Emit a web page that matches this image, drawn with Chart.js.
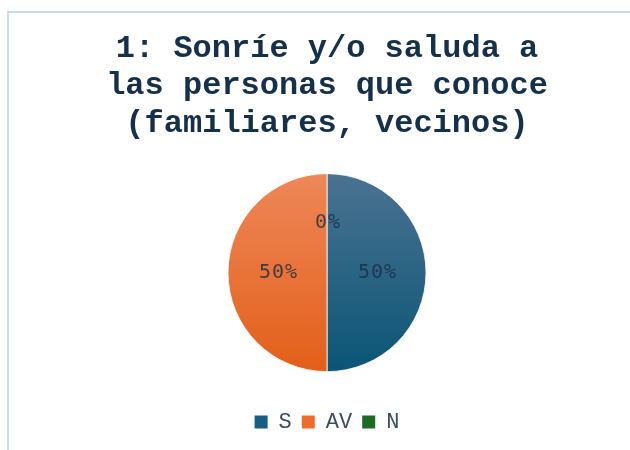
<!DOCTYPE html>
<html>
<head>
<meta charset="utf-8">
<style>
  body { margin: 0; background: #fff; }
  #wrap { position: relative; width: 630px; height: 450px; overflow: hidden; }
  #frame { position: absolute; left: 7px; top: 11px; width: 700px; height: 500px;
           border-left: 2px solid #c8ddf1; border-top: 2px solid #c8ddf1; }
  #box { position: absolute; left: 0; top: 0; width: 630px; height: 450px; }
</style>
</head>
<body>
<div id="wrap">
  <div id="frame"></div>
  <div id="box"><canvas id="myChart"></canvas></div>
</div>

<script src="https://cdn.jsdelivr.net/npm/chart.js@4.4.1/dist/chart.umd.min.js"></script>

<script>
    // data
    var titleLines = ['1: Sonríe y/o saluda a', 'las personas que conoce', '(familiares, vecinos)'];
    var categories = ['S', 'AV', 'N'];
    var values = [50, 50, 0];

    // top / bottom colours of each slice (gradient)
    var topColors = ['#4b7291', '#ee8759', '#2a7a33'];
    var bottomColors = ['#0a5576', '#e35f19', '#15621f'];
    var legendColors = ['#165f82', '#ee6d2c', '#1e6b26'];

    function sliceFill(context) {
        var chart = context.chart;
        var area = chart.chartArea;
        var i = context.dataIndex;
        if (context.type !== 'data' || !area) return legendColors[i];
        var cy = (area.top + area.bottom) / 2;
        var g = chart.ctx.createLinearGradient(0, cy - 99, 0, cy + 99);
        g.addColorStop(0, topColors[i]);
        g.addColorStop(1, bottomColors[i]);
        return g;
    }

    // percent labels inside the slices
    var pctLabels = {
        id: 'pctLabels',
        afterDatasetsDraw: function (chart) {
            var ctx = chart.ctx;
            var meta = chart.getDatasetMeta(0);
            var data = chart.data.datasets[0].data;
            var total = data.reduce(function (a, b) { return a + b; }, 0);
            ctx.save();
            ctx.font = '20px "DejaVu Sans Mono"';
            ctx.letterSpacing = '1px';
            ctx.fillStyle = 'rgba(22,45,66,0.8)';
            ctx.textAlign = 'center';
            ctx.textBaseline = 'middle';
            meta.data.forEach(function (arc, i) {
                var p = arc.tooltipPosition();
                var pct = Math.round(data[i] / total * 100) + '%';
                ctx.fillText(pct, p.x + 1, p.y);
            });
            ctx.restore();
        }
    };

    const ctx = document.getElementById('myChart');

    new Chart(ctx, {
        type: 'pie',
        data: {
            labels: categories,
            datasets: [{
                data: values,
                backgroundColor: sliceFill,
                borderColor: 'rgba(255,255,255,0.8)',
                borderWidth: 1,
                radius: 99
            }]
        },
        options: {
            responsive: true,
            maintainAspectRatio: false,
            animation: false,
            layout: { padding: { left: 24, right: 0, top: 0, bottom: 7 } },
            plugins: {
                title: {
                    display: true,
                    text: titleLines,
                    color: '#14304b',
                    font: { family: '"Liberation Mono", "Courier New", monospace', size: 32, weight: 'bold', lineHeight: 1.17 },
                    padding: { top: 30, bottom: 2 }
                },
                legend: {
                    position: 'bottom',
                    labels: {
                        boxWidth: 13,
                        boxHeight: 13,
                        padding: 10,
                        color: '#3d4d62',
                        font: { family: '"Liberation Mono", "Courier New", monospace', size: 22 },
                        generateLabels: function (chart) {
                            return chart.data.labels.map(function (l, i) {
                                return { text: l, fillStyle: legendColors[i], strokeStyle: legendColors[i],
                                         lineWidth: 0, hidden: false, index: i, fontColor: '#3d4d62' };
                            });
                        }
                    }
                },
                tooltip: { enabled: false }
            }
        },
        plugins: [pctLabels]
    });
</script>
</body>
</html>
